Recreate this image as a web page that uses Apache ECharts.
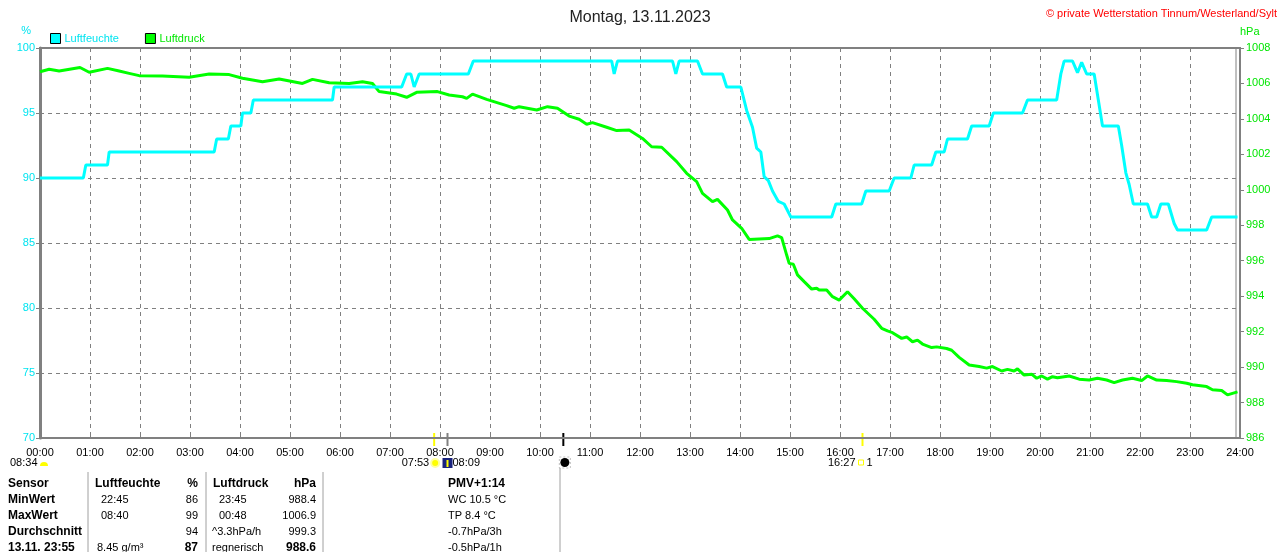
<!DOCTYPE html>
<html>
<head>
<meta charset="utf-8">
<script src="https://cdn.jsdelivr.net/npm/echarts@6/dist/echarts.min.js"></script>
<style>
  html, body { margin: 0; padding: 0; background: #fff; }
  #chart { width: 1280px; height: 552px; }
</style>
</head>
<body>
<div id="chart"></div>
<script>
const FONT = '"Liberation Sans", Arial, sans-serif';
const CYAN = '#00ffff';
const CYAN_TEXT = '#00e4f0';
const GREEN = '#00ff00';
const GREEN_TEXT = '#00e600';
const GRAY = '#808080';

const hourLabels = ['00:00', '01:00', '02:00', '03:00', '04:00', '05:00', '06:00', '07:00', '08:00',
  '09:00', '10:00', '11:00', '12:00', '13:00', '14:00', '15:00', '16:00', '17:00', '18:00',
  '19:00', '20:00', '21:00', '22:00', '23:00', '24:00'];

// Luftfeuchte (%)
const humidityTimes = ['00:00', '00:52', '00:55', '01:21', '01:23', '03:29', '03:32', '03:46', '03:49',
  '04:01', '04:03', '04:13', '04:16', '05:51', '05:53', '07:14', '07:20', '07:25', '07:29', '07:35',
  '08:34', '08:40', '11:26', '11:29', '11:33', '12:39', '12:43', '12:47', '13:09', '13:15', '13:39',
  '13:44', '14:01', '14:08', '14:15', '14:20', '14:25', '14:29', '14:34', '14:39', '14:46', '14:53',
  '15:01', '15:50', '15:55', '16:26', '16:31', '16:59', '17:05', '17:25', '17:29', '17:50', '17:55',
  '18:05', '18:09', '18:33', '18:38', '18:59', '19:04', '19:39', '19:45', '20:20', '20:25', '20:29',
  '20:39', '20:45', '20:50', '20:56', '21:05', '21:10', '21:15', '21:34', '21:38', '21:43', '21:47',
  '21:52', '22:09', '22:14', '22:20', '22:25', '22:34', '22:41', '22:45', '23:20', '23:26', '23:57'];
const humidityValues = [90, 90, 91, 91, 92, 92, 93, 93, 94,
  94, 95, 95, 96, 96, 97, 97, 98, 98, 97, 98,
  98, 99, 99, 98, 99, 99, 98, 99, 99, 98, 98,
  97, 97, 95.2, 93.9, 92.3, 92, 90.1, 89.8, 89, 88.2, 88,
  87, 87, 88, 88, 89, 89, 90, 90, 91, 91, 92,
  92, 93, 93, 94, 94, 95, 95, 96, 96, 98, 99,
  99, 98.1, 98.9, 98, 98, 96, 94, 94, 92.5, 90.4, 89.5,
  88, 88, 87, 87, 88, 88, 86.5, 86, 86, 87, 87];

// Luftdruck (hPa)
const pressureTimes = ['00:00', '00:11', '00:23', '00:48', '00:59', '01:21', '01:35', '01:47', '01:59',
  '02:27', '02:59', '03:23', '03:47', '04:03', '04:27', '04:47', '05:15', '05:27', '05:47', '06:11',
  '06:27', '06:39', '06:47', '07:08', '07:20', '07:32', '07:57', '08:11', '08:27', '08:32', '08:39',
  '08:56', '09:20', '09:29', '09:35', '09:56', '10:09', '10:21', '10:35', '10:47', '10:56', '11:03',
  '11:20', '11:32', '11:47', '12:03', '12:14', '12:26', '12:44', '12:56', '13:08', '13:15', '13:27',
  '13:33', '13:45', '13:51', '14:02', '14:11', '14:23', '14:35', '14:45', '14:50', '14:56', '14:59',
  '15:04', '15:09', '15:17', '15:26', '15:32', '15:35', '15:44', '15:51', '15:59', '16:09', '16:17',
  '16:27', '16:41', '16:50', '16:57', '17:03', '17:14', '17:20', '17:27', '17:33', '17:39', '17:50',
  '17:56', '18:08', '18:14', '18:23', '18:35', '18:47', '18:56', '19:03', '19:14', '19:21', '19:29',
  '19:33', '19:41', '19:50', '19:56', '20:02', '20:09', '20:15', '20:21', '20:35', '20:47', '20:59',
  '21:09', '21:20', '21:29', '21:39', '21:51', '22:02', '22:09', '22:20', '22:32', '22:44', '22:56',
  '23:03', '23:20', '23:27', '23:38', '23:45', '23:51', '23:57'];
const pressureValues = [1006.66, 1006.8, 1006.7, 1006.9, 1006.63, 1006.85, 1006.7, 1006.57, 1006.44,
  1006.42, 1006.35, 1006.53, 1006.5, 1006.29, 1006.1, 1006.25, 1006.0, 1006.23, 1006.04, 1006.0,
  1006.1, 1006.0, 1005.54, 1005.4, 1005.22, 1005.5, 1005.54, 1005.35, 1005.25, 1005.16, 1005.4,
  1005.1, 1004.75, 1004.6, 1004.69, 1004.5, 1004.69, 1004.6, 1004.16, 1003.98, 1003.7, 1003.79,
  1003.53, 1003.34, 1003.37, 1002.9, 1002.43, 1002.4, 1001.59, 1000.93, 1000.46, 999.8, 999.33,
  999.46, 998.86, 998.3, 997.83, 997.2, 997.23, 997.25, 997.4, 997.3, 996.32, 995.85,
  995.8, 995.2, 994.82, 994.4, 994.45, 994.35, 994.35, 993.97, 993.78, 994.25, 993.85,
  993.32, 992.7, 992.19, 992.04, 991.94, 991.62, 991.7, 991.43, 991.52, 991.3, 991.1,
  991.14, 991.05, 990.95, 990.55, 990.12, 990.03, 989.94, 990.03, 989.78, 989.87, 989.78,
  989.9, 989.55, 989.6, 989.37, 989.5, 989.32, 989.46, 989.4, 989.5, 989.32, 989.27,
  989.37, 989.27, 989.12, 989.27, 989.37, 989.24, 989.5, 989.27, 989.24, 989.18, 989.09,
  989.0, 988.9, 988.72, 988.68, 988.43, 988.52, 988.6];

// Sonne / Mond unter der Zeitachse
const eventTimes = ['07:53', '08:09', '10:28', '16:27'];
const eventColors = ['#ffff00', '#808080', '#000000', '#ffff00'];

// Tabelle
const tableHeader = ['Sensor', 'Luftfeuchte', '%', 'Luftdruck', 'hPa'];
const rowLabels = ['MinWert', 'MaxWert', 'Durchschnitt', '13.11. 23:55'];
const humidityInfo = ['22:45', '08:40', '', '8.45 g/m³'];
const humidityStats = ['86', '99', '94', '87'];
const pressureInfo = ['23:45', '00:48', '^3.3hPa/h', 'regnerisch'];
const pressureStats = ['988.4', '1006.9', '999.3', '988.6'];
const extraInfo = ['PMV+1:14', 'WC 10.5 °C', 'TP 8.4 °C', '-0.7hPa/3h', '-0.5hPa/1h'];

function toHours(t) {
  const [h, m] = t.split(':').map(Number);
  return h + m / 60;
}

const chart = echarts.init(document.getElementById('chart'), null, { renderer: 'canvas', width: 1280, height: 552 });

chart.setOption({
  animation: false,
  backgroundColor: '#fff',
  title: [
    {
      text: 'Montag, 13.11.2023',
      left: 'center',
      top: 5,
      textStyle: { fontFamily: FONT, fontSize: 16, fontWeight: 'normal', color: '#222' }
    },
    {
      text: '© private Wetterstation Tinnum/Westerland/Sylt',
      right: -2,
      top: 3,
      textStyle: { fontFamily: FONT, fontSize: 11, fontWeight: 'normal', color: '#ff0000' }
    }
  ],
  legend: {
    left: 45,
    top: 28,
    icon: 'rect',
    itemWidth: 10,
    itemHeight: 10,
    itemGap: 26,
    itemStyle: { borderColor: '#000', borderWidth: 1 },
    textStyle: { fontFamily: FONT, fontSize: 11, padding: [0, 0, 0, -1] },
    data: [
      { name: 'Luftfeuchte', textStyle: { color: CYAN_TEXT } },
      { name: 'Luftdruck', textStyle: { color: GREEN_TEXT } }
    ]
  },
  grid: {
    left: 40,
    top: 48,
    width: 1200,
    height: 390,
    show: true,
    borderColor: GRAY,
    borderWidth: 2
  },
  xAxis: {
    type: 'value',
    min: 0,
    max: 24,
    interval: 1,
    axisLine: { lineStyle: { color: GRAY, width: 2 } },
    axisTick: { inside: true, length: 4, lineStyle: { color: GRAY } },
    axisLabel: {
      color: '#000',
      fontFamily: FONT,
      fontSize: 11,
      margin: 9,
      formatter: (v) => hourLabels[v]
    },
    splitLine: { show: true, lineStyle: { color: GRAY, type: [4, 4], width: 1 } }
  },
  yAxis: [
    {
      type: 'value',
      position: 'left',
      min: 70,
      max: 100,
      interval: 5,
      axisLine: { show: true, lineStyle: { color: GRAY, width: 3 } },
      axisTick: { show: true, length: 4, lineStyle: { color: GRAY } },
      axisLabel: { color: CYAN_TEXT, fontFamily: FONT, fontSize: 11, margin: 5 },
      splitLine: { show: true, lineStyle: { color: GRAY, type: [4, 4], width: 1 } }
    },
    {
      type: 'value',
      position: 'right',
      min: 986,
      max: 1008,
      interval: 2,
      axisLine: { show: true, lineStyle: { color: GRAY, width: 2 } },
      axisTick: { show: true, length: 4, lineStyle: { color: GRAY } },
      axisLabel: {
        color: GREEN_TEXT,
        fontFamily: FONT,
        fontSize: 11,
        margin: 6,
        formatter: (v) => String(v)
      },
      splitLine: { show: false }
    }
  ],
  series: [
    {
      name: 'Luftdruck',
      type: 'line',
      yAxisIndex: 1,
      showSymbol: false,
      color: GREEN,
      lineStyle: { color: GREEN, width: 3 },
      data: pressureTimes.map((t, i) => [toHours(t), pressureValues[i]])
    },
    {
      name: 'Luftfeuchte',
      type: 'line',
      yAxisIndex: 0,
      showSymbol: false,
      color: CYAN,
      lineStyle: { color: CYAN, width: 3 },
      data: humidityTimes.map((t, i) => [toHours(t), humidityValues[i]])
    }
  ]
});

function text(x, y, str, opts = {}) {
  return {
    type: 'text',
    silent: true,
    style: {
      x,
      y,
      text: str,
      fill: opts.color || '#000',
      font: `${opts.bold ? 'bold ' : ''}${opts.size || 11}px ${FONT}`,
      textAlign: opts.align || 'left',
      textVerticalAlign: 'middle'
    }
  };
}

function line(x1, y1, x2, y2, color, width) {
  return {
    type: 'line',
    silent: true,
    shape: { x1, y1, x2, y2 },
    style: { stroke: color, lineWidth: width || 1 }
  };
}

const graphics = [];

// Achsen-Einheiten und doppelte rechte Linie
graphics.push(text(31, 31, '%', { color: CYAN_TEXT, align: 'right' }));
graphics.push(text(1240, 32, 'hPa', { color: GREEN_TEXT }));
graphics.push(line(1236, 47, 1236, 438, GRAY, 1));

// Sonnen- und Mondmarken
const ex = eventTimes.map((t) => chart.convertToPixel({ xAxisIndex: 0 }, toHours(t)));
eventTimes.forEach((t, i) => {
  graphics.push(line(ex[i], 433, ex[i], 446, eventColors[i], 2));
});

graphics.push(text(10, 463, '08:34'));
graphics.push({
  type: 'sector', silent: true,
  shape: { cx: 44, cy: 466, r0: 0, r: 4, startAngle: Math.PI, endAngle: Math.PI * 2 },
  style: { fill: '#ffff00' }
});

graphics.push(text(ex[0] - 5, 463, eventTimes[0], { align: 'right' }));
graphics.push({
  type: 'circle', silent: true,
  shape: { cx: ex[0] + 1, cy: 463, r: 4 },
  style: { fill: '#ffff00', stroke: '#ffffa0', lineWidth: 2 }
});
graphics.push({
  type: 'rect', silent: true,
  shape: { x: ex[1] - 5, y: 458, width: 10, height: 10 },
  style: { fill: '#1a237e' }
});
graphics.push(line(ex[1], 460, ex[1], 467, '#ffff00', 2));
graphics.push(text(ex[1] + 5, 463, eventTimes[1]));
graphics.push({
  type: 'rect', silent: true,
  shape: { x: ex[2] - 4, y: 457, width: 11, height: 11 },
  style: { fill: 'none', stroke: '#c0c0c0', lineWidth: 1, lineDash: [2, 2] }
});
graphics.push({
  type: 'circle', silent: true,
  shape: { cx: ex[2] + 1.5, cy: 462.5, r: 4.5 },
  style: { fill: '#000' }
});
graphics.push(text(ex[3] - 7, 463, eventTimes[3], { align: 'right' }));
graphics.push({
  type: 'rect', silent: true,
  shape: { x: ex[3] - 4, y: 460, width: 5, height: 5 },
  style: { fill: '#fff', stroke: '#ffff00', lineWidth: 1 }
});
graphics.push(text(ex[3] + 4, 463, '1'));

// Tabelle
[88, 206, 323].forEach((x) => graphics.push(line(x, 472, x, 552, '#a0a0a0', 1)));
graphics.push(line(560, 468, 560, 552, '#a0a0a0', 1));

const rowY = [484, 500, 516, 532, 548];
graphics.push(text(8, rowY[0], tableHeader[0], { bold: true, size: 12 }));
graphics.push(text(95, rowY[0], tableHeader[1], { bold: true, size: 12 }));
graphics.push(text(198, rowY[0], tableHeader[2], { bold: true, size: 12, align: 'right' }));
graphics.push(text(213, rowY[0], tableHeader[3], { bold: true, size: 12 }));
graphics.push(text(316, rowY[0], tableHeader[4], { bold: true, size: 12, align: 'right' }));

rowLabels.forEach((label, i) => {
  const y = rowY[i + 1];
  const last = i === rowLabels.length - 1;
  graphics.push(text(8, y, label, { bold: true, size: 12 }));
  graphics.push(text(last ? 97 : 101, y, humidityInfo[i]));
  graphics.push(text(198, y, humidityStats[i], { bold: last, size: last ? 12 : 11, align: 'right' }));
  graphics.push(text(i >= 2 ? 212 : 219, y, pressureInfo[i]));
  graphics.push(text(316, y, pressureStats[i], { bold: last, size: last ? 12 : 11, align: 'right' }));
});

extraInfo.forEach((s, i) => {
  graphics.push(text(448, rowY[i], s, { bold: i === 0, size: i === 0 ? 12 : 11 }));
});

chart.setOption({ graphic: graphics });
</script>
</body>
</html>
